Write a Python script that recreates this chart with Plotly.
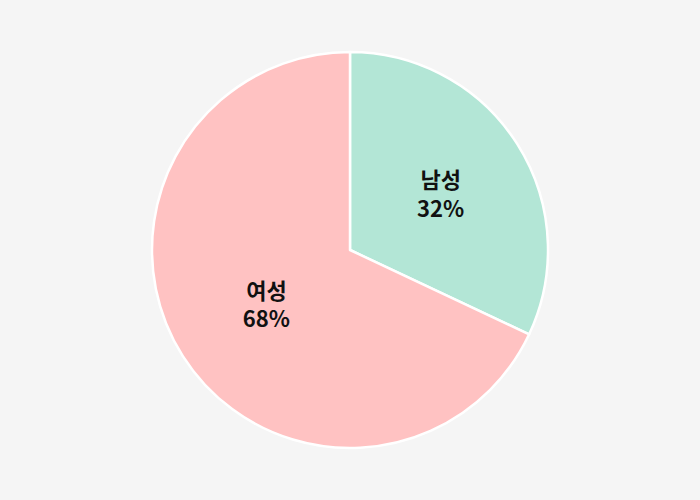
import plotly.graph_objects as go

labels = ["남성", "여성"]
values = [32, 68]
colors = ["#b3e6d6", "#ffc2c2"]

fig = go.Figure(go.Pie(
    labels=labels,
    values=values,
    sort=False,
    direction="clockwise",
    rotation=0,
    marker=dict(colors=colors, line=dict(color="#ffffff", width=2.5)),
    texttemplate="<b>%{label}</b><br><b>%{value}%</b>",
    textposition="inside",
    insidetextorientation="horizontal",
    textfont=dict(family="Noto Sans CJK KR", size=22, color="#111111"),
    hoverinfo="skip",
    showlegend=False,
))

fig.update_layout(
    width=700, height=500,
    margin=dict(l=150, r=150, t=52, b=52),
    paper_bgcolor="#f5f5f5",
    plot_bgcolor="#f5f5f5",
    uniformtext=dict(minsize=22, mode="show"),
)

fig.write_html(
    "out.html",
    config={"displayModeBar": False},
    post_script="document.body.style.margin='0';document.body.style.background='#f5f5f5';",
)
